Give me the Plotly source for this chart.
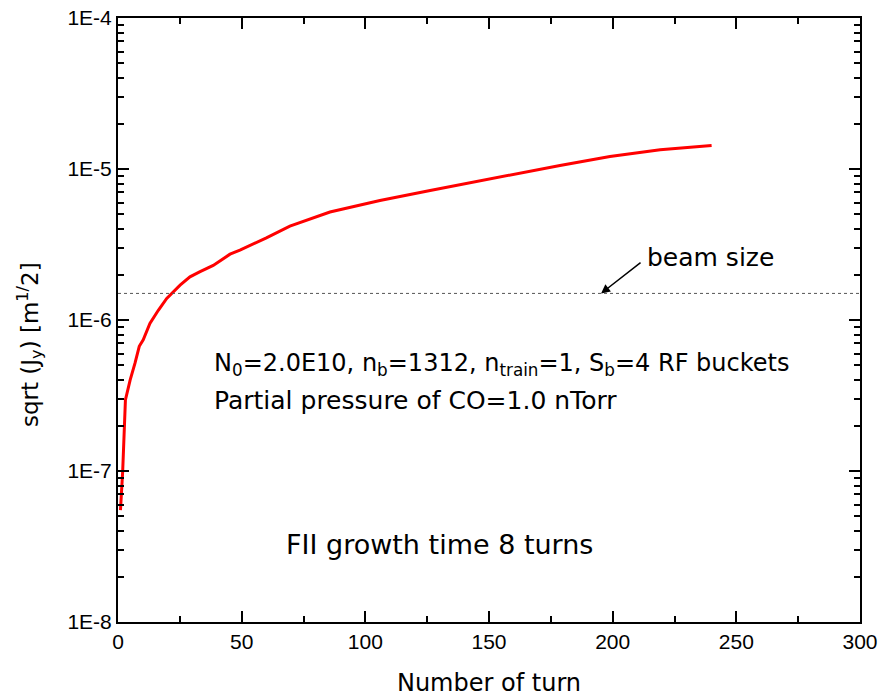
import math
import plotly.graph_objects as go

# ---- data ----
turns = [1, 1.9, 3.0, 4.2, 4.9, 6.9, 8.6, 10.2, 12.9, 16.3, 19.7, 25.1, 29.1, 33.2, 38.5,
         45.3, 49.3, 60, 69.5, 85.7, 105.9, 126.2, 145.7, 159.8, 178.7, 198.9, 219.2, 240]
sqrt_jy = [5.5e-8, 1.0e-7, 2.96e-7, 3.6e-7, 4.0e-7, 5.2e-7, 6.7e-7, 7.4e-7, 9.5e-7, 1.16e-6,
           1.39e-6, 1.7e-6, 1.93e-6, 2.09e-6, 2.3e-6, 2.73e-6, 2.9e-6, 3.5e-6, 4.19e-6, 5.19e-6,
           6.19e-6, 7.21e-6, 8.32e-6, 9.16e-6, 1.055e-5, 1.21e-5, 1.34e-5, 1.43e-5]
beam_size = 1.5e-6
x_range = [0, 300]
x_tickvals = [0, 50, 100, 150, 200, 250, 300]
x_minor_tickvals = [25, 75, 125, 175, 225, 275]
y_exponents = [-8, -7, -6, -5, -4]
y_tickvals = [1e-8, 1e-7, 1e-6, 1e-5, 1e-4]
y_ticktext = ["1E-8", "1E-7", "1E-6", "1E-5", "1E-4"]
y_minor_tickvals = [m * 10.0 ** e for e in y_exponents[:-1] for m in range(2, 10)]

TXT = "DejaVu Sans"
TICK = "Arial"

W, H = 880, 699
L, R, T, B = 118, 20, 18, 77
pw, ph = W - L - R, H - T - B

fig = go.Figure()
fig.add_trace(go.Scatter(x=turns, y=sqrt_jy, mode="lines",
                         line=dict(color="#ff0000", width=3), showlegend=False))
fig.add_trace(go.Scatter(x=x_range, y=[beam_size, beam_size], mode="lines",
                         line=dict(color="#555555", width=1, dash="dot"), showlegend=False))
# empty trace so the minor-tick overlay axes get drawn
fig.add_trace(go.Scatter(x=[], y=[], xaxis="x2", yaxis="y2", showlegend=False, hoverinfo="skip"))

axis_common = dict(showline=True, linecolor="black", linewidth=2, mirror="ticks",
                   ticks="inside", tickwidth=2, tickcolor="black",
                   showgrid=False, zeroline=False, automargin=False,
                   ticklabeloverflow="allow",
                   tickfont=dict(family=TICK, size=21, color="black"))

fig.update_layout(
    xaxis=dict(range=x_range, tickvals=x_tickvals, ticklen=11, ticklabelstandoff=0,
               title=dict(text="Number of turn", font=dict(family=TXT, size=24, color="black"), standoff=22),
               **axis_common),
    yaxis=dict(type="log", range=[y_exponents[0], y_exponents[-1]],
               tickvals=y_tickvals, ticktext=y_ticktext,
               ticklen=11, ticklabelstandoff=0, **axis_common),
    xaxis2=dict(overlaying="x", anchor="y2", range=x_range, tickvals=x_minor_tickvals,
                ticklen=6, showticklabels=False, **axis_common),
    yaxis2=dict(overlaying="y", anchor="x2", type="log", range=[y_exponents[0], y_exponents[-1]],
                tickvals=y_minor_tickvals, ticklen=6, showticklabels=False, **axis_common),
)

annotations = [
    dict(x=(30 - L) / pw, y=(H - B - 345) / ph, xref="paper", yref="paper",
         xanchor="center", yanchor="middle", showarrow=False, textangle=-90,
         text="sqrt (J<sub>y</sub>) [m<sup>1/</sup>2]",
         font=dict(family=TXT, size=23, color="black")),
    dict(x=38, y=0.427, xref="x", yref="paper", xanchor="left", yanchor="middle", showarrow=False,
         text="N<sub>0</sub>=2.0E10, n<sub>b</sub>=1312, n<sub>train</sub>=1, S<sub>b</sub>=4 RF buckets",
         font=dict(family=TXT, size=24, color="black")),
    dict(x=38, y=0.366, xref="x", yref="paper", xanchor="left", yanchor="middle", showarrow=False,
         text="Partial pressure of CO=1.0 nTorr",
         font=dict(family=TXT, size=25, color="black")),
    dict(x=67, y=0.1275, xref="x", yref="paper", xanchor="left", yanchor="middle", showarrow=False,
         text="FII growth time 8 turns",
         font=dict(family=TXT, size=27, color="black")),
    dict(x=213, y=0.603, xref="x", yref="paper", xanchor="left", yanchor="middle", showarrow=False,
         text="beam size",
         font=dict(family=TXT, size=25, color="black")),
    dict(x=195.3, y=math.log10(beam_size), xref="x", yref="y", text="", showarrow=True,
         arrowhead=2, arrowsize=1.2, arrowwidth=1.5, arrowcolor="black",
         ax=41, ay=-32),
]

fig.update_layout(width=W, height=H, margin=dict(l=L, r=R, t=T, b=B),
                  plot_bgcolor="white", paper_bgcolor="white", annotations=annotations)

# remove the browser's default 8px page margin so the figure sits at the window's corner
fig.write_html("out.html", config={"displayModeBar": False},
               post_script="document.body.style.margin='0px';")
